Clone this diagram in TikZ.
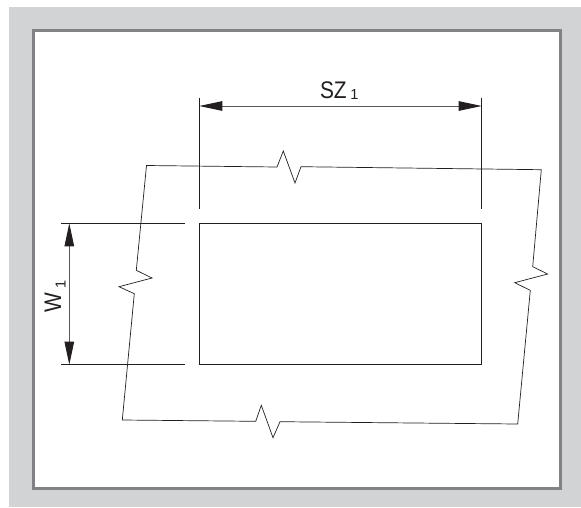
\documentclass[tikz,border=0pt]{standalone}
\usepackage{fontspec}
\setmainfont{Liberation Sans}
\usetikzlibrary{arrows.meta}
\definecolor{panelgray}{HTML}{D1D3D4}
\definecolor{framegray}{HTML}{808285}
\definecolor{inkline}{HTML}{231F20}
\tikzset{
  outline/.style={draw=inkline,line width=0.7pt,line join=miter},
  dimline/.style={draw=inkline!75,line width=0.9pt,{Triangle[length=23pt,width=9.5pt,color=inkline]}-{Triangle[length=23pt,width=9.5pt,color=inkline]}},
  label/.style={inner sep=0pt,outer sep=0pt,text=inkline,font=\fontsize{24}{24}\selectfont},
  subs/.style={inner sep=0pt,outer sep=0pt,text=inkline,font=\fontsize{14.5}{14.5}\selectfont}
}
\begin{document}
\begin{tikzpicture}[x=1pt,y=-1pt]
\useasboundingbox (0,0) rectangle (581,507);
\fill[panelgray] (9,7) rectangle (581,507);
\draw[framegray,line width=3pt,fill=white] (33.5,30.5) rectangle (560.5,488.5);
% coordinates
\coordinate (a) at (199.3,223.3);
\coordinate (b) at (481.7,223.3);
\coordinate (c) at (481.7,364.7);
\coordinate (d) at (199.3,364.7);
\coordinate (e1t) at (199.3,97.5);
\coordinate (e1b) at (199.3,209);
\coordinate (e2t) at (481.7,97.5);
\coordinate (e2b) at (481.7,209);
\coordinate (e3l) at (61,223.3);
\coordinate (e3r) at (185,223.3);
\coordinate (e4l) at (61,364.7);
\coordinate (e4r) at (185,364.7);
\coordinate (h1) at (199.3,106);
\coordinate (h2) at (481.7,106);
\coordinate (v1) at (69.3,223.3);
\coordinate (v2) at (69.3,364.7);
% part
\draw[outline] (a) -- (b) -- (c) -- (d) -- cycle;
% extension lines
\draw[outline] (e1t) -- (e1b);
\draw[outline] (e2t) -- (e2b);
\draw[outline] (e3l) -- (e3r);
\draw[outline] (e4l) -- (e4r);
% dimensions
\draw[dimline] (h1) -- (h2);
\draw[dimline] (v1) -- (v2);
% break outline
\draw[outline] (146.5,165.5) -- (277,167) -- (283.3,151) -- (295,183) -- (301,166.7)
  -- (541.3,169.7) -- (532.7,266.7) -- (547.7,274) -- (514.7,282.7) -- (530.3,290.3)
  -- (517.7,424) -- (280,421.7) -- (273,437.7) -- (261.3,405.3) -- (255.7,421.3)
  -- (122.3,420) -- (134.3,293.7) -- (119,286.7) -- (152,278) -- (136.3,270.3) -- cycle;
% labels
\node[label,anchor=base west] (sz) at (320,98.8) {\scalebox{.87}[1]{SZ}};
\node[subs,anchor=base west] (sz1) at (350.3,99.4) {1};
\node[label,anchor=base west,rotate=90] (w) at (61,312.7) {\scalebox{.87}[1]{W}};
\node[subs,anchor=base west,rotate=90] (w1) at (65.5,288.5) {1};
\end{tikzpicture}
\end{document}
